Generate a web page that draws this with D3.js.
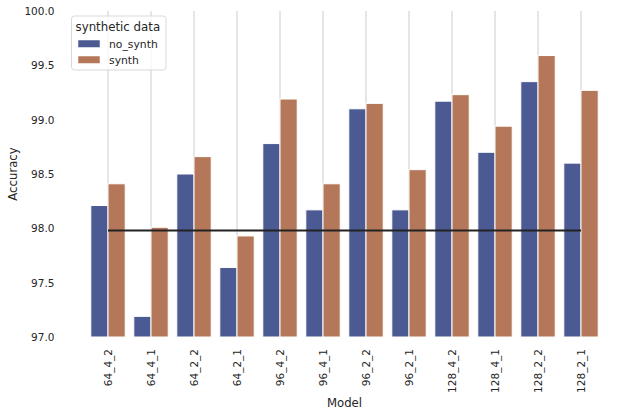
<!DOCTYPE html>
<html>
<head>
<meta charset="utf-8">
<script src="https://cdn.jsdelivr.net/npm/d3@7"></script>
<style>
  html, body { margin: 0; padding: 0; background: #ffffff; }
  svg { display: block; font-family: "DejaVu Sans", sans-serif; }
</style>
</head>
<body>
<svg id="chart" width="630" height="416"></svg>
<script>
const models = ["64_4_2","64_4_1","64_2_2","64_2_1","96_4_2","96_4_1","96_2_2","96_2_1","128_4_2","128_4_1","128_2_2","128_2_1"];
const seriesNames = ["no_synth","synth"];
const noSynth = [98.21, 97.19, 98.50, 97.64, 98.78, 98.17, 99.10, 98.17, 99.17, 98.70, 99.35, 98.60];
const synth   = [98.41, 98.01, 98.66, 97.93, 99.19, 98.41, 99.15, 98.54, 99.23, 98.94, 99.59, 99.27];
const baseline = 97.98;
const yTicks = [97.0, 97.5, 98.0, 98.5, 99.0, 99.5, 100.0];
const colors = ["#4b5a92", "#b47759"];

const svg = d3.select("#chart");
const margin = {left: 86.5, right: 27.5, top: 11, bottom: 79};
const W = 630, H = 416;
const x0 = margin.left, x1 = W - margin.right;
const yTop = margin.top, yBot = H - margin.bottom;

const x = d3.scaleBand().domain(models).range([x0, x1]).paddingInner(0).paddingOuter(0);
const xs = d3.scaleBand().domain(seriesNames).range([0, x.bandwidth()]).paddingInner(0).paddingOuter(0.25);
const y = d3.scaleLinear().domain([97, 100]).range([yBot, yTop]);

const textColor = "#262626";
const tickSize = 10.5;

// vertical gridlines
svg.append("g").selectAll("line").data(models).join("line")
  .attr("x1", d => x(d) + x.bandwidth()/2).attr("x2", d => x(d) + x.bandwidth()/2)
  .attr("y1", yTop).attr("y2", yBot)
  .attr("stroke", "#cccccc").attr("stroke-width", 1);

// bars
const data = models.map((m, i) => ({model: m, vals: [noSynth[i], synth[i]]}));
const groups = svg.append("g").selectAll("g").data(data).join("g")
  .attr("transform", d => `translate(${x(d.model)},0)`);
groups.selectAll("rect").data(d => d.vals.map((v, j) => ({s: seriesNames[j], v, j})))
  .join("rect")
  .attr("x", d => xs(d.s))
  .attr("width", xs.bandwidth())
  .attr("y", d => y(d.v))
  .attr("height", d => y(97) - y(d.v))
  .attr("fill", d => colors[d.j])
  .attr("stroke", "#ffffff").attr("stroke-width", 1);

// baseline horizontal line
svg.append("line")
  .attr("x1", x(models[0]) + x.bandwidth()/2)
  .attr("x2", x(models[models.length-1]) + x.bandwidth()/2)
  .attr("y1", y(baseline)).attr("y2", y(baseline))
  .attr("stroke", "#222222").attr("stroke-width", 2);

// y axis
const yAxis = d3.axisLeft(y).tickValues(yTicks).tickFormat(d3.format(".1f")).tickSize(0).tickPadding(0);
const gy = svg.append("g").attr("transform", `translate(${x0 - 32},0)`).call(yAxis);
gy.select(".domain").remove();
gy.selectAll("text").attr("font-size", tickSize).attr("fill", textColor).attr("font-family", "DejaVu Sans");

// x axis
const xAxis = d3.axisBottom(x).tickSize(0).tickPadding(0);
const gx = svg.append("g").attr("transform", `translate(0,${yBot})`).call(xAxis);
gx.select(".domain").remove();
gx.selectAll("text")
  .attr("font-size", tickSize).attr("fill", textColor).attr("font-family", "DejaVu Sans")
  .attr("transform", "rotate(-90)")
  .attr("text-anchor", "end")
  .attr("x", -12).attr("y", 0).attr("dy", "0.35em");

// axis labels
svg.append("text").attr("x", (x0 + x1)/2).attr("y", 407)
  .attr("text-anchor", "middle").attr("font-size", 11.7).attr("fill", textColor).text("Model");
svg.append("text").attr("transform", `translate(17,${(yTop + yBot)/2}) rotate(-90)`)
  .attr("text-anchor", "middle").attr("font-size", 11.7).attr("fill", textColor).text("Accuracy");

// legend
const lg = svg.append("g");
lg.append("rect").attr("x", 71.5).attr("y", 16).attr("width", 94.5).attr("height", 54)
  .attr("rx", 3).attr("fill", "#ffffff").attr("fill-opacity", 0.8)
  .attr("stroke", "#d9d9d9").attr("stroke-width", 1);
lg.append("text").attr("x", 75.5).attr("y", 31).attr("font-size", 11.8).attr("fill", textColor).text("synthetic data");
seriesNames.forEach((s, i) => {
  const yy = 40 + i * 16;
  lg.append("rect").attr("x", 78).attr("y", yy).attr("width", 22).attr("height", 7.5)
    .attr("fill", colors[i]).attr("stroke", "#ffffff").attr("stroke-width", 0.5);
  lg.append("text").attr("x", 109).attr("y", yy + 4).attr("dy", "0.35em")
    .attr("font-size", 10.8).attr("fill", textColor).text(s);
});
</script>
</body>
</html>
